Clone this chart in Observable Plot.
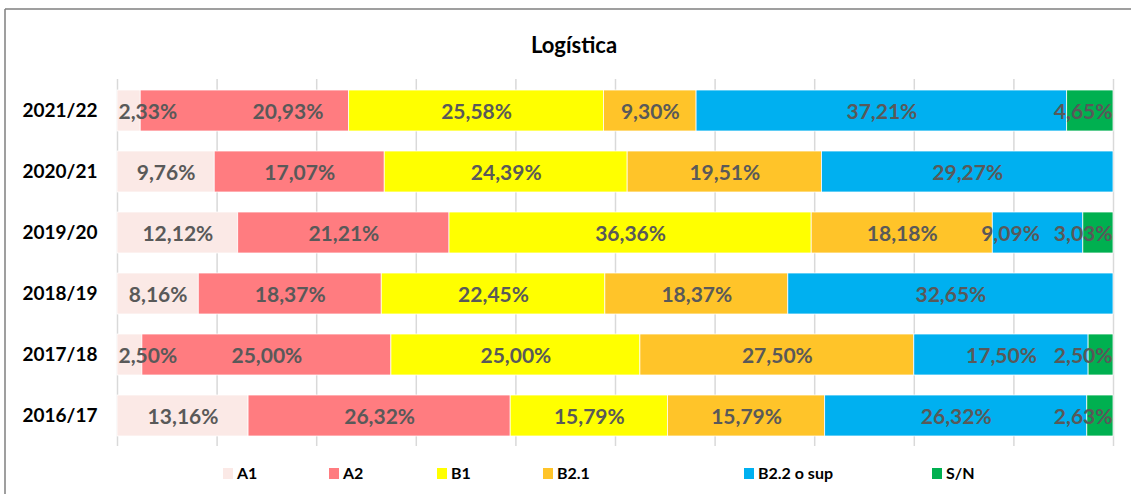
<!DOCTYPE html>
<html>
<head>
<meta charset="utf-8">
<script src="https://cdn.jsdelivr.net/npm/d3@7"></script>
<script src="https://cdn.jsdelivr.net/npm/@observablehq/plot@0.6"></script>
<style>
  html, body { margin: 0; padding: 0; background: white; }
  #chart { width: 1131px; height: 494px; overflow: hidden; }
</style>
</head>
<body>
<div id="chart"></div>
<script>
const title = "Logística";
const years = ["2021/22", "2020/21", "2019/20", "2018/19", "2017/18", "2016/17"];
const cats = ["A1", "A2", "B1", "B2.1", "B2.2 o sup", "S/N"];
const A1  = [2.33, 9.76, 12.12, 8.16, 2.50, 13.16];
const A2  = [20.93, 17.07, 21.21, 18.37, 25.00, 26.32];
const B1  = [25.58, 24.39, 36.36, 22.45, 25.00, 15.79];
const B21 = [9.30, 19.51, 18.18, 18.37, 27.50, 15.79];
const B22 = [37.21, 29.27, 9.09, 32.65, 17.50, 26.32];
const SN  = [4.65, 0, 3.03, 0, 2.50, 2.63];
const colors = ["#FBE9E6", "#FF7C80", "#FFFF00", "#FFC429", "#00B0F0", "#00B050"];

// layout (not data)
const legendX = [223, 329, 437, 543, 744, 932];
// manual label nudges in pixels, as in the original chart
const labelNudge = {"2021/22|A2": 43, "2019/20|B2.2 o sup": -25};

const series = [A1, A2, B1, B21, B22, SN];
const W = 1131, H = 494, mL = 117, mR = 18, mT = 79, mB = 48;
const pxPerUnit = (W - mL - mR) / 100;
const LABEL_SIZE = 21;

const canvas = document.createElement("canvas");
const ctx = canvas.getContext("2d");
ctx.font = `bold ${LABEL_SIZE}px Lato`;

const fmt = v => v.toFixed(2).replace(".", ",") + "%";

const rows = [];
const labels = [];
years.forEach((yr, i) => {
  const total = d3.sum(series, s => s[i]);
  let cum = 0;
  const rowLabels = [];
  cats.forEach((c, j) => {
    const v = series[j][i];
    const x1 = cum / total * 100;
    cum += v;
    const x2 = cum / total * 100;
    rows.push({year: yr, cat: c, x1, x2, value: v});
    if (v > 0) {
      const text = fmt(v);
      const hw = (ctx.measureText(text).width / 2 + 1) / pxPerUnit;
      let cx = (x1 + x2) / 2 + (labelNudge[yr + "|" + c] || 0) / pxPerUnit;
      cx = Math.max(hw, Math.min(100 - hw, cx));
      rowLabels.push({year: yr, cx, hw, text});
    }
  });
  const gap = 12 / pxPerUnit;
  for (let k = rowLabels.length - 2; k >= 0; k--) {
    const a = rowLabels[k], b = rowLabels[k + 1];
    const maxCx = b.cx - b.hw - gap - a.hw;
    if (a.cx > maxCx) a.cx = maxCx;
  }
  labels.push(...rowLabels);
});

const chart = Plot.plot({
  width: W, height: H,
  marginLeft: mL, marginRight: mR, marginTop: mT, marginBottom: mB,
  style: {fontFamily: "Lato, 'Open Sans', sans-serif", background: "white", overflow: "visible"},
  x: {domain: [0, 100], axis: null},
  y: {domain: years, paddingInner: 0.33, paddingOuter: 0.165, axis: null},
  color: {domain: cats, range: colors},
  marks: [
    Plot.ruleX(d3.range(0, 101, 10), {stroke: "#D9D9D9", strokeWidth: 1.5}),
    Plot.barX(rows, {x1: "x1", x2: "x2", y: "year", fill: "cat", stroke: "white", strokeWidth: 0.75}),
    Plot.text(labels, {x: "cx", y: "year", text: "text", fill: "#595959", fontSize: LABEL_SIZE, fontWeight: "bold", dy: 1}),
    Plot.axisY({tickSize: 0, tickPadding: 20, fontSize: 19, fontWeight: "bold", color: "black", label: null})
  ]
});

const svg = d3.select(chart);
svg.selectAll("g[aria-label='y-axis tick label'] text").attr("fill", "black");
// frame
svg.append("line").attr("x1", 5).attr("x2", W).attr("y1", 9).attr("y2", 9)
  .attr("stroke", "#7F7F7F").attr("stroke-width", 1.5);
svg.append("line").attr("x1", 5).attr("x2", 5).attr("y1", 9).attr("y2", H)
  .attr("stroke", "#7F7F7F").attr("stroke-width", 1.5);
// title
svg.append("text").attr("x", 574).attr("y", 53).attr("text-anchor", "middle")
  .attr("font-family", "Lato, sans-serif").attr("font-weight", "bold").attr("font-size", 22)
  .attr("fill", "black").text(title);
// legend
const lg = svg.append("g").attr("font-family", "Lato, sans-serif").attr("font-weight", "bold")
  .attr("font-size", 16).attr("text-anchor", "start");
cats.forEach((c, j) => {
  lg.append("rect").attr("x", legendX[j]).attr("y", 468).attr("width", 10).attr("height", 11).attr("fill", colors[j]);
  lg.append("text").attr("x", legendX[j] + 14).attr("y", 479).attr("text-anchor", "start").attr("fill", "black").text(c);
});

document.getElementById("chart").appendChild(chart);
</script>
</body>
</html>
